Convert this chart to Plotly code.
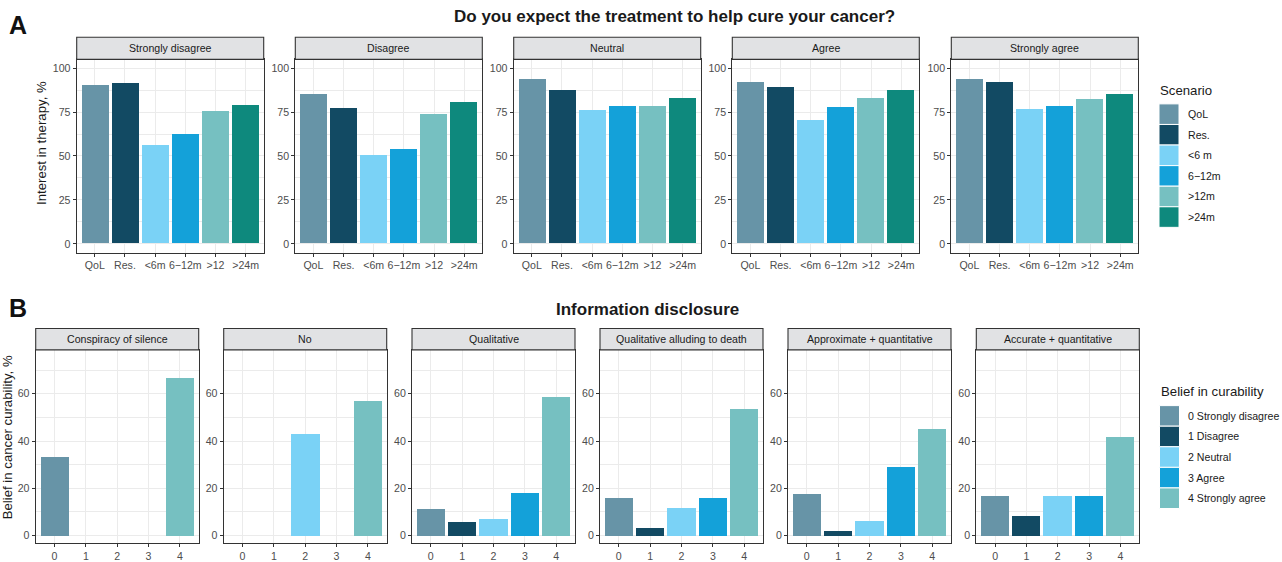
import plotly.graph_objects as go

# ---- data -------------------------------------------------------------
belief_levels = ["Strongly disagree", "Disagree", "Neutral", "Agree", "Strongly agree"]
scenarios = ["QoL", "Res.", "<6m", "6\u221212m", ">12", ">24m"]
scenario_legend = ["QoL", "Res.", "<6 m", "6\u221212m", ">12m", ">24m"]

interest_strongly_disagree = [90.4, 91.5, 56.0, 62.2, 75.2, 78.6]
interest_disagree = [84.8, 76.9, 50.4, 53.8, 73.5, 80.8]
interest_neutral = [93.8, 87.1, 75.8, 78.0, 78.0, 82.6]
interest_agree = [92.1, 89.3, 70.2, 77.5, 82.6, 87.1]
interest_strongly_agree = [93.8, 92.1, 76.4, 78.0, 82.0, 84.8]
interest_by_belief = [interest_strongly_disagree, interest_disagree, interest_neutral,
                      interest_agree, interest_strongly_agree]

disclosure_levels = ["Conspiracy of silence", "No", "Qualitative",
                     "Qualitative alluding to death", "Approximate + quantitative",
                     "Accurate + quantitative"]
curability_scores = [0, 1, 2, 3, 4]
curability_legend = ["0 Strongly disagree", "1 Disagree", "2 Neutral", "3 Agree", "4 Strongly agree"]

belief_conspiracy = [33.3, 0, 0, 0, 66.7]
belief_no = [0, 0, 42.9, 0, 57.1]
belief_qualitative = [11.2, 5.7, 7.0, 17.9, 58.6]
belief_qual_death = [15.8, 3.2, 11.6, 15.8, 53.6]
belief_approx_quant = [17.5, 2.0, 6.2, 29.2, 45.2]
belief_accurate_quant = [16.7, 8.3, 16.7, 16.7, 41.7]
belief_by_disclosure = [belief_conspiracy, belief_no, belief_qualitative,
                        belief_qual_death, belief_approx_quant, belief_accurate_quant]

palette = ["#6794a7", "#124a63", "#7ad2f6", "#14a1d9", "#76c0c1", "#0e897d"]

# ---- geometry (pixels) --------------------------------------------------
W, H = 1282, 562


def px_x(x):
    return x / W


def px_y(y):
    return 1 - y / H


FONT = "Liberation Sans"
GRID = "#ebebeb"
DARK = "#333333"
TICKTXT = "#4d4d4d"

a_lefts = [76.7, 295.3, 513.7, 732.3, 951.3]
a_width = 187.0
a_strip_top, a_plot_top, a_plot_bottom = 37.7, 60.0, 255.3

b_lefts = [35.7, 223.7, 412.0, 600.0, 788.0, 976.3]
b_width = 163.0
b_strip_top, b_plot_top, b_plot_bottom = 332.0, 353.7, 549.3

fig = go.Figure()
layout = {}
shapes = []
annotations = []


def axis_common():
    return dict(showline=True, linecolor=DARK, linewidth=1.1, mirror=True,
                ticks="outside", ticklen=3, tickcolor=DARK, tickwidth=1.1,
                showgrid=True, gridcolor=GRID, gridwidth=1.1, zeroline=False,
                tickfont=dict(family=FONT, size=10.6, color=TICKTXT),
                fixedrange=True)


def add_strip(left, width, top, bottom, label):
    shapes.append(dict(type="rect", xref="paper", yref="paper",
                       x0=px_x(left), x1=px_x(left + width),
                       y0=px_y(bottom), y1=px_y(top),
                       fillcolor="#e1e2e4", line=dict(color=DARK, width=1.1),
                       layer="above"))
    annotations.append(dict(xref="paper", yref="paper",
                            x=px_x(left + width / 2), y=px_y((top + bottom) / 2),
                            text=label, showarrow=False, xanchor="center", yanchor="middle",
                            font=dict(family=FONT, size=10.6, color="#1a1a1a")))


n = 0
# Panel A: interest in therapy by belief level
for i, (name, vals) in enumerate(zip(belief_levels, interest_by_belief)):
    n += 1
    xs = list(range(1, len(scenarios) + 1))
    fig.add_trace(go.Bar(x=xs, y=vals, width=0.9, marker=dict(color=palette, line=dict(width=0)),
                         showlegend=False, xaxis=f"x{n}", yaxis=f"y{n}",
                         hovertext=scenarios, name=name))
    xa = axis_common()
    xa.update(domain=[px_x(a_lefts[i]), px_x(a_lefts[i] + a_width)], range=[0.4, 6.6],
              tickmode="array", tickvals=xs, ticktext=scenarios, anchor=f"y{n}")
    ya = axis_common()
    ya.update(domain=[px_y(a_plot_bottom), px_y(a_plot_top)], range=[-5, 105],
              tickmode="array", tickvals=[0, 25, 50, 75, 100], anchor=f"x{n}",
              minor=dict(tickmode="array", tickvals=[12.5, 37.5, 62.5, 87.5],
                         showgrid=True, gridcolor=GRID, gridwidth=0.6, ticks=""))
    layout[f"xaxis{n}"] = xa
    layout[f"yaxis{n}"] = ya
    add_strip(a_lefts[i], a_width, a_strip_top, a_plot_top, name)

# Panel B: belief in curability by information disclosure
for i, (name, vals) in enumerate(zip(disclosure_levels, belief_by_disclosure)):
    n += 1
    fig.add_trace(go.Bar(x=curability_scores, y=vals, width=0.9,
                         marker=dict(color=palette[:5], line=dict(width=0)),
                         showlegend=False, xaxis=f"x{n}", yaxis=f"y{n}",
                         hovertext=curability_legend, name=name))
    xa = axis_common()
    xa.update(domain=[px_x(b_lefts[i]), px_x(b_lefts[i] + b_width)], range=[-0.6, 4.6],
              tickmode="array", tickvals=curability_scores,
              ticktext=[str(v) for v in curability_scores], anchor=f"y{n}")
    ya = axis_common()
    ya.update(domain=[px_y(b_plot_bottom), px_y(b_plot_top)], range=[-3.3, 78.5],
              tickmode="array", tickvals=[0, 20, 40, 60], anchor=f"x{n}",
              minor=dict(tickmode="array", tickvals=[10, 30, 50, 70],
                         showgrid=True, gridcolor=GRID, gridwidth=0.6, ticks=""))
    layout[f"xaxis{n}"] = xa
    layout[f"yaxis{n}"] = ya
    add_strip(b_lefts[i], b_width, b_strip_top, b_plot_top, name)


def text(x, y, s, size, bold=False, anchor="center", angle=0, color="#1a1a1a"):
    annotations.append(dict(xref="paper", yref="paper", x=px_x(x), y=px_y(y),
                            text=f"<b>{s}</b>" if bold else s, showarrow=False,
                            xanchor=anchor, yanchor="middle", textangle=angle,
                            font=dict(family=FONT, size=size, color=color)))


# titles and panel letters
text(674, 17, "Do you expect the treatment to help cure your cancer?", 17, bold=True)
text(647.5, 313, "Information disclosure", 17, bold=True)
text(18, 25, "A", 25, bold=True, color="#111111")
text(18, 311, "B", 25, bold=True, color="#111111")

# y axis titles
text(41.5, 145, "Interest in therapy, %", 13.2, angle=-90, color="#1a1a1a")
text(7, 442, "Belief in cancer curability, %", 13.2, angle=-90, color="#1a1a1a")


# legends
def draw_legend(title, labels, colors, x, title_y, top):
    text(x, title_y, title, 13.2, anchor="left")
    key_h = 20.8
    for k, (lab, col) in enumerate(zip(labels, colors)):
        y0 = top + k * key_h
        shapes.append(dict(type="rect", xref="paper", yref="paper",
                           x0=px_x(x + 1), x1=px_x(x + 21), y0=px_y(y0 + key_h), y1=px_y(y0),
                           fillcolor=col, line=dict(color="white", width=1)))
        text(x + 27.5, y0 + key_h / 2, lab, 10.6, anchor="left")


draw_legend("Scenario", scenario_legend, palette, 1158, 91, 105)
draw_legend("Belief in curability", curability_legend, palette[:5], 1158.5, 396, 410)

layout.update(width=W, height=H, margin=dict(l=0, r=0, t=0, b=0),
              paper_bgcolor="white", plot_bgcolor="white",
              shapes=shapes, annotations=annotations, bargap=0,
              font=dict(family=FONT), showlegend=False)
fig.update_layout(**layout)
fig.write_html("out.html")
